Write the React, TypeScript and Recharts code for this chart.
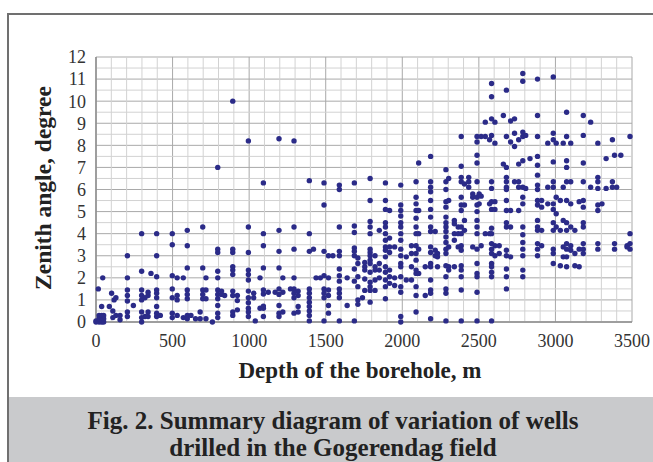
import {
  ScatterChart,
  Scatter,
  XAxis,
  YAxis,
  CartesianGrid,
  ReferenceLine,
} from "recharts";

// depth ticks (m) and zenith angle ticks (degree)
const depthTicks = [0, 500, 1000, 1500, 2000, 2500, 3000, 3500];
const angleTicks = [0, 1, 2, 3, 4, 5, 6, 7, 8, 9, 10, 11, 12];
const minorDepthTicks = [
  100, 200, 300, 400, 600, 700, 800, 900, 1100, 1200, 1300, 1400, 1600, 1700,
  1800, 1900, 2100, 2200, 2300, 2400, 2600, 2700, 2800, 2900, 3100, 3200, 3300,
  3400,
];
const minorAngleTicks = [
  0.5, 1.5, 2.5, 3.5, 4.5, 5.5, 6.5, 7.5, 8.5, 9.5, 10.5, 11.5,
];

// shallow part: 0 - 1150 m
const shallowDepths = [
  0, 15, 20, 37, 44, 50, 87, 102, 110, 118, 130, 157, 205, 244, 298, 320, 340,
  359, 396, 420, 498, 530, 570, 596, 620, 650, 680, 697, 718, 760, 795, 820,
  840, 893, 923, 995, 1030, 1040, 1071, 1093, 1125,
];
const shallowAngles = [
  [0, 0.05],
  [1.5],
  [0, 0.15, 0.3],
  [0, 0.3, 0.7],
  [2.0],
  [0, 0.15, 0.3],
  [0.7],
  [1.3],
  [0.2, 0.5],
  [1.0],
  [0.3, 1.1],
  [0.1, 0.3],
  [0.25, 0.45, 0.95, 1.2, 1.45, 2.0, 3.0],
  [0.75],
  [0, 0.2, 0.45, 1.0, 1.2, 1.45, 2.3, 4.0],
  [0.25, 1.1],
  [0.25, 0.45, 1.2, 1.35],
  [2.2],
  [0.25, 0.4, 0.7, 1.1, 1.3, 1.45, 2.05, 3.0, 4.0],
  [0.3],
  [0.2, 0.4, 1.1, 1.5, 2.1, 3.5, 4.0],
  [0.3, 1.0, 1.2, 2.0],
  [0.2, 2.0],
  [0.15, 0.3, 1.05, 1.25, 1.45, 2.45, 3.45, 4.15],
  [0.3],
  [0.15],
  [0.15, 0.45],
  [1.05, 1.25, 1.45, 2.45, 4.3],
  [0.15, 1.05, 1.45, 2.0],
  [0],
  [0.2, 0.4, 0.75, 1.05, 1.25, 1.45, 2.0, 2.3, 3.15, 3.3, 7.0],
  [1.25, 1.4],
  [1.2],
  [0.3, 0.45, 1.2, 1.4, 2.15, 2.35, 2.5, 3.15, 3.3, 10.0],
  [0.55, 0.97, 1.2],
  [0.25, 0.45, 0.62, 0.87, 1.1, 1.4, 1.9, 2.15, 2.35, 3.15, 4.3, 8.2],
  [1.1, 1.3],
  [0.05],
  [0.62, 2.0],
  [0.25, 0.62, 0.72, 1.27, 1.45, 2.45, 3.45, 4.0, 6.3],
  [1.35],
];

// middle part: 1150 - 1750 m
const middleDepths = [
  1170, 1195, 1220, 1270, 1293, 1320, 1393, 1420, 1437, 1465, 1489, 1518, 1547,
  1589, 1640, 1687, 1710, 1740,
];
const middleAngles = [
  [1.35],
  [0.25, 0.4, 0.75, 1.25, 1.5, 2.45, 3.2, 4.15, 8.3],
  [0.45, 1.35, 2.0],
  [1.5],
  [0.4, 1.1, 1.3, 1.5, 2.0, 3.3, 4.3, 8.2],
  [0.45, 0.7, 1.2, 1.4],
  [0.05, 0.3, 0.5, 0.7, 0.9, 1.1, 1.3, 1.5, 3.2, 4.0, 6.4],
  [3.3],
  [2.0],
  [2.0],
  [0.05, 1.1, 1.3, 1.5, 2.1, 3.2, 5.3, 6.3],
  [0.4, 0.75, 1.2, 1.45, 2.0, 3.0],
  [3.0],
  [0.05, 1.1, 1.3, 1.5, 1.85, 2.1, 2.4, 3.0, 3.2, 4.3, 6.0, 6.2],
  [0.75, 2.0],
  [0.05, 1.85, 2.4, 3.0, 3.2, 3.35, 4.05, 4.35, 6.3],
  [0.8, 1.0, 1.6, 2.05, 2.65, 2.9],
  [1.1],
];

// deep part: 1750 - 3500 m
const deepDepths = [
  1755, 1790, 1822, 1850, 1890, 1917, 1950, 1990, 2026, 2060, 2090, 2107, 2150,
  2185, 2215, 2230, 2285, 2303, 2340, 2365, 2385, 2406, 2434, 2460, 2488, 2502,
  2515, 2542, 2570, 2583, 2605, 2633, 2660, 2680, 2707, 2733, 2760, 2787, 2806,
  2834, 2883, 2910, 2950, 2986, 3005, 3032, 3051, 3073, 3100, 3127, 3155, 3182,
  3230, 3277, 3304, 3331, 3372, 3386, 3400, 3427, 3468, 3487,
];
const deepAngles = [
  [2.7, 2.5, 2.35, 1.95, 1.43],
  [6.5, 5.5, 4.55, 4.3, 4.0, 3.3, 3.15, 3.0, 2.8, 2.65, 2.25, 1.8, 1.6, 1.43, 0.9],
  [3.0, 2.5, 2.35, 1.9, 1.43],
  [4.15, 2.65, 2.35, 2.0],
  [6.3, 5.5, 5.1, 4.5, 4.3, 4.0, 3.7, 3.4, 3.25, 2.95, 2.5, 2.25, 1.9, 1.6, 1.05],
  [5.05, 3.8, 3.4, 3.15, 2.35, 2.05, 1.75],
  [3.4, 2.0, 1.65],
  [6.2, 5.3, 5.05, 4.8, 4.5, 4.3, 4.0, 3.7, 3.3, 3.0, 2.65, 2.5, 2.05, 1.6, 1.35, 0.25, 0],
  [2.95, 1.9],
  [3.45, 3.1, 2.5, 1.9],
  [6.35, 5.65, 5.35, 5.05, 4.7, 4.3, 4.0, 3.45, 3.1, 2.8, 2.35, 2.2, 1.6, 1.2, 0.45],
  [7.2, 5.05, 4.0, 3.3, 2.2],
  [2.5, 1.2],
  [7.5, 6.35, 6.1, 5.9, 5.5, 5.1, 4.75, 4.3, 4.1, 3.4, 3.15, 2.65, 2.5, 1.9, 1.45, 1.3, 0.15],
  [4.1, 3.25, 3.0],
  [3.1, 2.95, 2.5],
  [6.9, 6.35, 6.0, 5.45, 5.2, 4.75, 4.5, 4.3, 4.1, 3.85, 3.6, 3.3, 3.1, 2.55, 2.05, 1.5, 1.3, 0.05],
  [6.5, 5.5, 3.4, 2.5, 2.35],
  [4.6, 4.45, 4.0, 3.7, 2.5],
  [4.3, 4.0, 3.4],
  [8.4, 7.05, 6.55, 6.35, 5.65, 5.3, 5.05, 4.3, 4.0, 3.45, 3.25, 2.55, 2.35, 2.05, 1.45, 0.05],
  [6.25, 5.3, 4.6, 4.15],
  [6.55, 6.35, 6.1],
  [5.8, 5.65, 3.4],
  [8.4, 8.15, 7.55, 7.2, 6.35, 5.65, 5.3, 5.0, 4.6, 4.3, 4.0, 3.3, 2.65, 2.2, 2.05, 1.35, 0.05],
  [5.8, 5.35],
  [8.4, 5.7, 3.45],
  [9.05, 8.4, 4.0],
  [8.25, 5.35, 4.0],
  [10.8, 10.2, 9.2, 8.45, 6.35, 6.05, 5.45, 5.1, 4.25, 4.0, 3.55, 3.3, 3.1, 2.65, 2.5, 2.25, 2.05, 0.05],
  [9.05, 8.1, 5.45, 5.1, 3.45, 3.0],
  [3.45, 3.1],
  [9.35, 7.15],
  [10.5, 8.4, 7.0, 6.55, 6.35, 6.1, 6.0, 5.5, 5.05, 4.5, 4.3, 3.25, 3.0, 2.4, 2.05, 1.5],
  [9.1, 8.15, 5.05, 4.3, 2.95],
  [9.2, 8.55, 7.95, 6.35],
  [8.25, 7.15, 6.35, 6.1, 5.05],
  [11.25, 10.9, 8.6, 8.4, 7.3, 6.1, 5.65, 5.35, 4.3, 3.95, 3.6, 3.3, 3.0, 2.35, 2.05],
  [8.45, 6.05],
  [7.4],
  [11.0, 9.35, 8.4, 7.5, 7.1, 6.65, 6.2, 6.0, 5.5, 5.3, 4.6, 4.3, 4.15, 3.55, 3.3, 3.0],
  [5.5, 5.2, 4.15, 3.45],
  [8.1, 6.1, 5.35],
  [11.1, 8.55, 8.25, 7.25, 6.35, 6.1, 5.35, 5.1, 4.5, 4.15, 3.3, 3.1, 2.65],
  [8.1, 5.65, 4.9, 4.3],
  [5.5, 4.15, 2.55],
  [8.1, 6.1, 4.6, 3.4, 2.95],
  [9.5, 8.4, 7.3, 7.0, 6.35, 5.5, 4.5, 4.15, 3.55, 3.3, 2.95, 2.5],
  [8.1, 6.35, 5.35, 4.3, 3.45, 3.25],
  [4.15, 3.1, 2.55],
  [5.45, 3.3, 2.5],
  [9.35, 8.45, 7.2, 6.35, 5.5, 5.2, 4.5, 4.3, 3.55, 3.3, 3.1],
  [9.05, 6.1],
  [8.1, 6.55, 6.35, 6.05, 5.3, 5.05, 3.55, 3.3],
  [5.35],
  [7.4, 6.05],
  [8.25, 6.35, 6.1],
  [7.55, 3.55, 3.3],
  [6.1],
  [7.55],
  [3.45, 3.4],
  [8.4, 4.0, 3.55, 3.3],
];

function toPoints(depths: number[], angles: number[][]) {
  return depths.flatMap((d, i) =>
    (angles[i] || []).map((a) => ({ depth: d, angle: a }))
  );
}

const points = [
  ...toPoints(shallowDepths, shallowAngles),
  ...toPoints(middleDepths, middleAngles),
  ...toPoints(deepDepths, deepAngles),
];

const SERIF = "'Liberation Serif', 'DejaVu Serif', serif";

const Dot = (props: any) => (
  <circle cx={props.cx} cy={props.cy} r={2.7} fill="#2b2b88" />
);

export default function App() {
  return (
    <div
      style={{
        position: "fixed",
        left: 0,
        top: 0,
        width: 653,
        height: 462,
        background: "#fff",
        overflow: "hidden",
        fontFamily: SERIF,
      }}
    >
      <div
        style={{
          position: "absolute",
          left: 7,
          top: 13,
          width: 700,
          height: 500,
          borderTop: "2px solid #707070",
          borderLeft: "2px solid #707070",
        }}
      />
      <div
        style={{
          position: "absolute",
          left: 9,
          top: 397,
          width: 700,
          height: 80,
          background: "#c9cacc",
        }}
      />
      <div
        style={{
          position: "absolute",
          left: 0,
          top: 407,
          width: 666,
          textAlign: "center",
          fontWeight: "bold",
          fontSize: 25,
          lineHeight: "27px",
          color: "#222",
        }}
      >
        Fig. 2. Summary diagram of variation of wells
        <br />
        drilled in the Gogerendag field
      </div>
      <div
        style={{
          position: "absolute",
          left: 160,
          width: 400,
          top: 358,
          textAlign: "center",
          fontWeight: "bold",
          fontSize: 23,
          color: "#222",
        }}
      >
        Depth of the borehole, m
      </div>
      <div
        style={{
          position: "absolute",
          left: 43 - 150,
          top: 188 - 14,
          width: 300,
          height: 28,
          lineHeight: "28px",
          textAlign: "center",
          fontWeight: "bold",
          fontSize: 23.5,
          color: "#222",
          transform: "rotate(-90deg)",
        }}
      >
        Zenith angle, degree
      </div>
      <div style={{ position: "absolute", left: 0, top: 0 }}>
        <ScatterChart
          width={653}
          height={462}
          margin={{ top: 57, right: 21, bottom: 110, left: 36 }}
        >
          {minorDepthTicks.map((v) => (
            <ReferenceLine key={"vx" + v} x={v} stroke="#d2d2d2" strokeWidth={1} />
          ))}
          {minorAngleTicks.map((v) => (
            <ReferenceLine key={"hy" + v} y={v} stroke="#d2d2d2" strokeWidth={1} />
          ))}
          <CartesianGrid stroke="#a9a9a9" strokeWidth={1} />
          <XAxis
            type="number"
            dataKey="depth"
            domain={[0, 3500]}
            ticks={depthTicks}
            height={30}
            axisLine={{ stroke: "#8c8c8c", strokeWidth: 1.5 }}
            tickLine={false}
            tickMargin={6}
            tick={{ fontSize: 18, fill: "#333", fontFamily: SERIF }}
          />
          <YAxis
            type="number"
            dataKey="angle"
            domain={[0, 12]}
            ticks={angleTicks}
            width={60}
            interval={0}
            axisLine={{ stroke: "#8c8c8c", strokeWidth: 1.5 }}
            tickLine={false}
            tickMargin={4}
            tick={{ fontSize: 18, fill: "#333", fontFamily: SERIF }}
          />
          <Scatter
            data={points}
            shape={Dot}
            isAnimationActive={false}
          />
        </ScatterChart>
      </div>
    </div>
  );
}
